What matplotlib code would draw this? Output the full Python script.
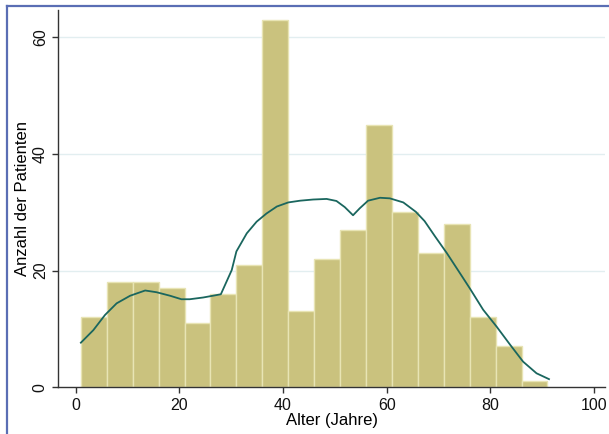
import matplotlib
matplotlib.use("Agg")
import matplotlib.pyplot as plt
from matplotlib.lines import Line2D

# histogram: age bins of 5 years starting at 1
bin_edges = [1, 6, 11, 16, 21, 26, 31, 36, 41, 46, 51, 56, 61, 66, 71, 76, 81, 86, 91]
counts = [12, 18, 18, 17, 11, 16, 21, 63, 13, 22, 27, 45, 30, 23, 28, 12, 7, 1]

# density curve (scaled to counts)
curve_x = [1.0, 3.4, 5.65, 7.9, 10.5, 13.4, 15.6, 18.2, 20.4, 22.0, 24.6, 28.0,
           30.1, 31.0, 33.0, 34.9, 36.8, 38.8, 41.0, 43.3, 45.8, 48.4, 50.3, 51.9,
           53.5, 54.8, 56.4, 58.7, 60.6, 63.2, 65.6, 67.3, 69.3, 71.6, 74.1, 76.0,
           78.6, 81.2, 83.8, 86.3, 88.9, 91.3]
curve_y = [7.65, 9.8, 12.4, 14.4, 15.7, 16.6, 16.3, 15.7, 15.1, 15.1, 15.4, 15.95,
           20.1, 23.3, 26.4, 28.4, 29.8, 31.0, 31.7, 32.0, 32.2, 32.3, 31.95, 30.9,
           29.5, 30.7, 32.0, 32.5, 32.4, 31.7, 30.1, 28.5, 25.9, 23.0, 19.6, 17.0,
           13.3, 10.4, 7.3, 4.4, 2.4, 1.4]

x_ticks = [0, 20, 40, 60, 80, 100]
y_ticks = [0, 20, 40, 60]

plt.rcParams['font.family'] = ['Liberation Sans', 'DejaVu Sans']

fig = plt.figure(figsize=(6.09, 4.34), dpi=100)
ax = fig.add_axes([0.0957, 0.1076, 0.8977, 0.8694])

widths = [b - a for a, b in zip(bin_edges[:-1], bin_edges[1:])]
ax.bar(bin_edges[:-1], counts, width=widths, align='edge',
       color='#cac27e', edgecolor='#e8e4b4', linewidth=1.0, zorder=2)
ax.plot(curve_x, curve_y, color='#1a665e', linewidth=1.3, zorder=3)

ax.set_xlim(-3.36, 102.1)
ax.set_ylim(0, 64.7)
ax.set_xticks(x_ticks)
ax.set_yticks(y_ticks)
ax.set_yticklabels([str(t) for t in y_ticks], rotation=90, va='center')

for y in y_ticks[1:]:
    ax.axhline(y, color='#e2eef0', linewidth=1.0, zorder=1)

for side in ('top', 'right'):
    ax.spines[side].set_visible(False)
for side in ('left', 'bottom'):
    ax.spines[side].set_color('#333333')
    ax.spines[side].set_linewidth(1.0)

ax.tick_params(axis='both', direction='out', length=4.5, width=1.0,
               color='#333333', labelsize=11.5, labelcolor='#111111')
ax.tick_params(axis='y', pad=3)
ax.set_xlabel("Alter (Jahre)", fontsize=12, labelpad=0)
ax.set_ylabel("Anzahl der Patienten", fontsize=12, labelpad=2)

# outer frame (left and top edges visible)
fig.add_artist(Line2D([6.5 / 609, 6.5 / 609], [0, 1 - 5.5 / 434],
                      transform=fig.transFigure, color='#5a6eb4', linewidth=1.6))
fig.add_artist(Line2D([6.5 / 609, 1], [1 - 5.5 / 434, 1 - 5.5 / 434],
                      transform=fig.transFigure, color='#5a6eb4', linewidth=1.6))

fig.savefig("out.png", dpi=100)
